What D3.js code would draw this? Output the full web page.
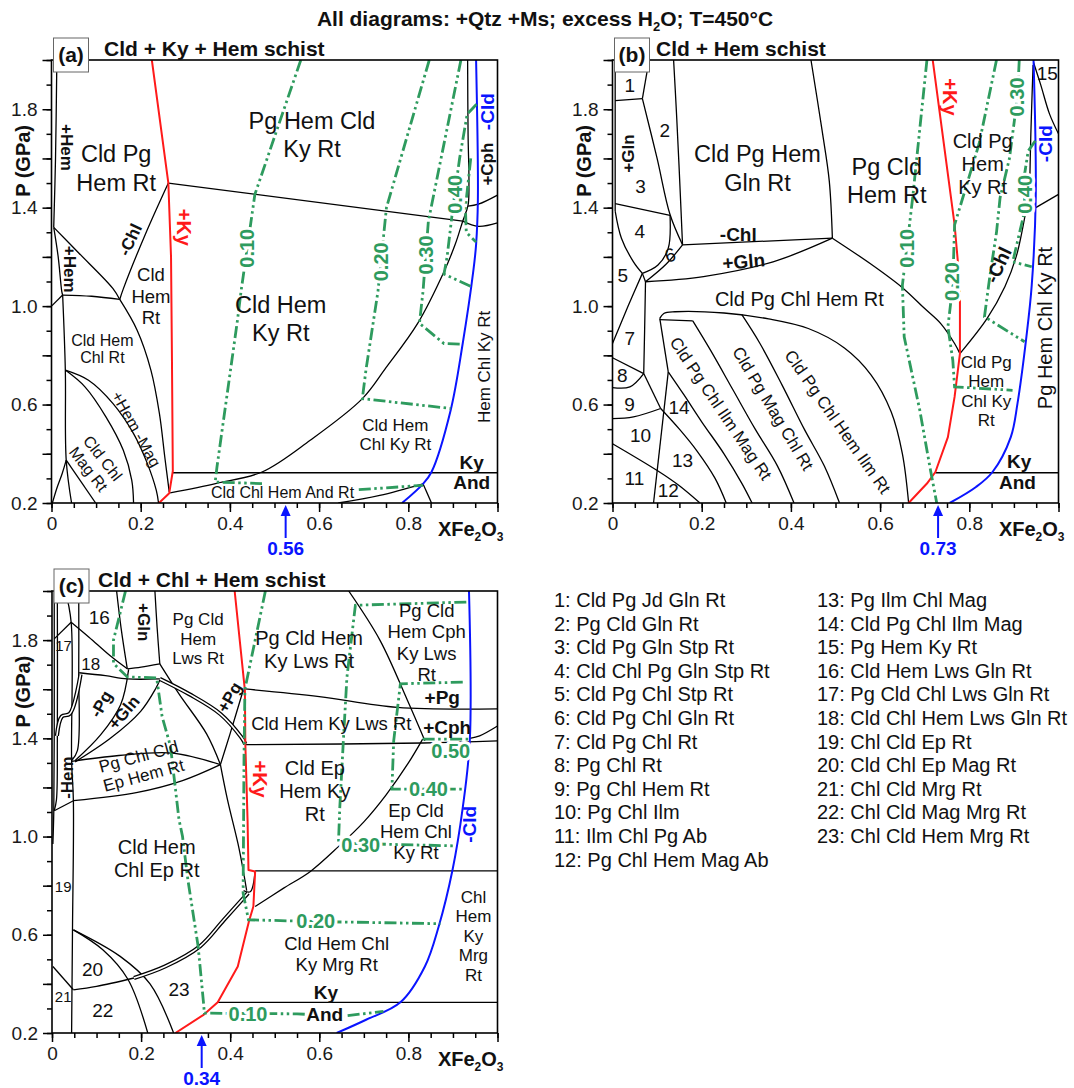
<!DOCTYPE html>
<html><head><meta charset="utf-8">
<script src="https://cdn.jsdelivr.net/npm/d3@7"></script>
<style>
body{margin:0;background:#fff;}
svg{display:block;font-family:"Liberation Sans",Arial,sans-serif;}
</style></head><body>
<svg id="chart" width="1074" height="1088"></svg>
<script>
// ---------------- DATA (x = XFe2O3, y = P in GPa) ----------------
const xMajorTicks = [0, 0.2, 0.4, 0.6, 0.8, 1.0];
const yLabelTicks = [0.2, 0.6, 1.0, 1.4, 1.8];

// Panel (a)
const aBlack = [
  [[0.012,2.0],[0.009,1.6],[0.005,1.32]],
  [[0.005,1.32],[0.015,1.2],[0.023,1.06],[0.025,1.045]],
  [[0.005,1.32],[0.06,1.218],[0.1375,1.072],[0.153,1.027]],
  [[0.262,1.50],[0.21,1.29],[0.161,1.07],[0.153,1.027]],
  [[0.262,1.50],[0.922,1.345]],
  [[0.922,1.345],[0.957,1.324],[1.0,1.338]],
  [[0.934,1.406],[0.957,1.414],[1.0,1.451]],
  [[0.933,2.0],[0.934,1.7],[0.936,1.5],[0.934,1.41],[0.922,1.345],[0.905,1.25],[0.88,1.14],[0.821,0.93],[0.75,0.75],[0.697,0.624],[0.58,0.455],[0.472,0.326],[0.37,0.28],[0.266,0.241]],
  [[0.272,0.323],[1.0,0.323]],
  [[0.833,0.278],[0.852,0.2]],
  [[0.643,0.2],[0.736,0.231],[0.833,0.278]],
  [[0,1.0],[0.025,1.045]],
  [[0.025,1.045],[0.09,1.04],[0.153,1.027]],
  [[0.025,1.045],[0.031,0.74],[0.033,0.374],[0.045,0.2]],
  [[0.002,0.2],[0.012,0.26],[0.024,0.32],[0.033,0.374]],
  [[0.033,0.374],[0.099,0.2]],
  [[0.153,1.027],[0.192,0.902],[0.223,0.739],[0.242,0.563],[0.254,0.387],[0.264,0.245]],
  [[0.031,0.74],[0.083,0.699],[0.138,0.604],[0.184,0.482],[0.215,0.36],[0.235,0.251],[0.24,0.2]],
  [[0.031,0.74],[0.075,0.672],[0.122,0.55],[0.161,0.414],[0.18,0.292],[0.184,0.2]]
];
const aDouble = [];
const aRed = [[0.225,2.0],[0.262,1.50],[0.268,1.2],[0.270,0.8],[0.272,0.33],[0.264,0.24],[0.241,0.2]];
const aBlue = [[0.952,2.0],[0.956,1.43],[0.952,1.25],[0.946,1.146],[0.922,0.848],[0.895,0.577],[0.852,0.326],[0.833,0.278],[0.786,0.2]];
const aGreen = [
  [[0.559,2.0],[0.456,1.454],[0.425,1.06],[0.417,0.943],[0.371,0.346],[0.367,0.285],[0.472,0.279]],
  [[0.689,0.254],[0.833,0.272]],
  [[0.847,2.0],[0.751,1.40],[0.732,1.06],[0.705,0.74],[0.697,0.624],[0.895,0.584]],
  [[0.918,2.0],[0.845,1.345],[0.833,1.06],[0.825,0.93],[0.88,0.848],[0.922,0.845]],
  [[0.953,1.82],[0.932,1.78],[0.915,1.6],[0.9,1.4],[0.887,1.2],[0.88,1.13],[0.94,1.08]],
  [[0.94,1.6],[0.928,1.4],[0.93,1.3],[0.952,1.26]]
];
const aLabels = [
  {t:"Cld Pg\nHem Rt", x:0.145, y:1.56, s:"big"},
  {t:"Pg Hem Cld\nKy Rt", x:0.584, y:1.696, s:"big"},
  {t:"Cld Hem\nKy Rt", x:0.514, y:0.95, s:"big"},
  {t:"Cld\nHem\nRt", x:0.223, y:1.04, s:"m18"},
  {t:"Cld Hem\nChl Rt", x:0.114, y:0.826, s:"sm"},
  {t:"+Hem -Mag", x:0.19, y:0.50, s:"sm", r:61},
  {t:"Cld Chl\nMag Rt", x:0.099, y:0.36, s:"sm", r:52},
  {t:"-Chl", x:0.176, y:1.27, s:"bold", r:-65},
  {t:"+Ky", x:0.297, y:1.32, s:"red", r:90},
  {t:"+Hem", x:0.035, y:1.645, s:"bold", r:90},
  {t:"+Hem", x:0.042, y:1.15, s:"bold", r:90},
  {t:"+Cph", x:0.977, y:1.577, s:"bold", r:-90},
  {t:"-Cld", x:0.977, y:1.79, s:"blue", r:-90},
  {t:"Hem Chl Ky Rt", x:0.969, y:0.753, s:"sm17", r:-90},
  {t:"Cld Hem\nChl Ky Rt", x:0.771, y:0.478, s:"sm17"},
  {t:"Ky", x:0.942, y:0.367, s:"boldL"},
  {t:"And", x:0.942, y:0.285, s:"boldL"},
  {t:"Cld Chl Hem And Rt", x:0.518, y:0.245, s:"sm"},
  {t:"0.10", x:0.439, y:1.235, s:"green", r:-90},
  {t:"0.20", x:0.739, y:1.18, s:"green", r:-90},
  {t:"0.30", x:0.84, y:1.208, s:"green", r:-90},
  {t:"0.40", x:0.904, y:1.454, s:"green", r:-90}
];
const aArrow = {x:0.525, label:"0.56"};

// Panel (b)
const bBlack = [
  [[0.006,2.0],[0.006,1.386]],
  [[0.006,1.835],[0.067,1.843]],
  [[0.067,1.843],[0.082,2.0]],
  [[0.067,1.843],[0.1,1.6],[0.129,1.372],[0.157,1.249]],
  [[0.137,2.0],[0.143,1.8],[0.149,1.577],[0.157,1.249]],
  [[0.006,1.416],[0.129,1.369]],
  [[0.006,1.386],[0.02,1.276],[0.047,1.18],[0.067,1.133]],
  [[0.129,1.369],[0.125,1.235],[0.102,1.167],[0.067,1.133]],
  [[0.157,1.249],[0.12,1.17],[0.074,1.099]],
  [[0.067,1.133],[0.074,1.099]],
  [[0.074,1.099],[0.204,1.12],[0.36,1.18],[0.493,1.276]],
  [[0.157,1.249],[0.493,1.276]],
  [[0.445,2.0],[0.47,1.713],[0.486,1.509],[0.493,1.276]],
  [[0.493,1.276],[0.58,1.17],[0.65,1.075],[0.7,0.99],[0.736,0.929],[0.767,0.848],[0.779,0.807]],
  [[0.779,0.807],[0.84,0.95],[0.88,1.08],[0.905,1.2],[0.92,1.32],[0.93,1.42]],
  [[0.944,1.99],[0.96,1.9],[0.98,1.78],[1.0,1.70]],
  [[0.943,1.98],[0.938,1.7],[0.935,1.45]],
  [[0.949,1.40],[1.0,1.454]],
  [[0.724,0.323],[1.0,0.323]],
  [[0.067,1.133],[0.035,1.0],[0,0.848]],
  [[0.074,1.099],[0.072,0.9],[0.07,0.726]],
  [[0,0.79],[0.07,0.726]],
  [[0,0.669],[0.039,0.672],[0.07,0.726]],
  [[0.07,0.726],[0.108,0.584]],
  [[0,0.543],[0.047,0.55],[0.108,0.584]],
  [[0.125,0.733],[0.092,0.2]],
  [[0.106,0.95],[0.125,0.733]],
  [[0.106,0.95],[0.115,0.97],[0.14,0.977],[0.25,0.972],[0.35,0.948],[0.439,0.909],[0.52,0.83],[0.58,0.72],[0.625,0.57],[0.65,0.4],[0.664,0.2]],
  [[0.106,0.945],[0.18,0.94]],
  [[0.125,0.733],[0.16,0.64],[0.2,0.53],[0.25,0.4],[0.29,0.28],[0.313,0.2]],
  [[0.108,0.584],[0.15,0.5],[0.19,0.41],[0.23,0.3],[0.255,0.2]],
  [[0.18,0.94],[0.22,0.82],[0.27,0.66],[0.32,0.5],[0.37,0.35],[0.407,0.2]],
  [[0.29,0.965],[0.33,0.85],[0.38,0.68],[0.43,0.5],[0.475,0.35],[0.509,0.2]],
  [[0,0.441],[0.102,0.33],[0.15,0.27],[0.196,0.2]]
];
const bDouble = [];
const bRed = [[0.718,2.0],[0.767,1.331],[0.779,1.085],[0.779,0.807],[0.767,0.631],[0.752,0.468],[0.724,0.326],[0.705,0.279],[0.664,0.2]];
const bBlue = [[0.944,2.0],[0.949,1.44],[0.94,1.085],[0.928,0.875],[0.908,0.604],[0.893,0.468],[0.852,0.326],[0.815,0.265],[0.756,0.2]];
const bGreen = [
  [[0.705,2.0],[0.673,1.44],[0.65,1.085],[0.654,0.875],[0.689,0.577],[0.713,0.333],[0.727,0.2]],
  [[0.861,2.0],[0.822,1.66],[0.767,1.33],[0.763,1.085],[0.752,0.916],[0.763,0.78],[0.767,0.672],[0.897,0.658]],
  [[0.912,2.0],[0.908,1.85],[0.89,1.6],[0.869,1.44],[0.861,1.30],[0.846,1.12],[0.834,0.957],[0.924,0.855]],
  [[0.948,1.672],[0.932,1.63],[0.924,1.536],[0.924,1.386],[0.9,1.2],[0.897,1.18],[0.94,1.16]]
];
const bLabels = [
  {t:"1", x:0.039, y:1.898, s:"num"},
  {t:"2", x:0.117, y:1.713, s:"num"},
  {t:"+Gln", x:0.034, y:1.62, s:"bold", r:-90},
  {t:"3", x:0.063, y:1.488, s:"num"},
  {t:"4", x:0.061, y:1.304, s:"num"},
  {t:"5", x:0.023, y:1.126, s:"num"},
  {t:"6", x:0.129, y:1.208, s:"num", r:-15},
  {t:"Cld Pg Hem\nGln Rt", x:0.325, y:1.56, s:"big"},
  {t:"Pg Cld\nHem Rt", x:0.615, y:1.508, s:"big"},
  {t:"-Chl", x:0.282, y:1.29, s:"boldL"},
  {t:"+Gln", x:0.294, y:1.181, s:"boldL", r:-5},
  {t:"+Ky", x:0.756, y:1.85, s:"red", r:90},
  {t:"Cld Pg\nHem\nKy Rt", x:0.83, y:1.577, s:"mid"},
  {t:"-Cld", x:0.971, y:1.66, s:"blue", r:-90},
  {t:"15", x:0.975, y:1.945, s:"num"},
  {t:"-Chl", x:0.865, y:1.167, s:"boldL", r:-65},
  {t:"Pg Hem Chl Ky Rt", x:0.97, y:0.911, s:"mid", r:-90},
  {t:"Cld Pg Chl Hem Rt", x:0.419, y:1.027, s:"mid"},
  {t:"Cld Pg\nHem\nChl Ky\nRt", x:0.838, y:0.655, s:"sm17"},
  {t:"7", x:0.039, y:0.868, s:"num"},
  {t:"8", x:0.022, y:0.719, s:"num"},
  {t:"9", x:0.038, y:0.601, s:"num"},
  {t:"10", x:0.063, y:0.475, s:"num"},
  {t:"11", x:0.049, y:0.299, s:"num"},
  {t:"12", x:0.125, y:0.251, s:"num"},
  {t:"13", x:0.157, y:0.373, s:"num"},
  {t:"14", x:0.149, y:0.59, s:"num"},
  {t:"Cld Pg Chl Ilm Mag Rt", x:0.243, y:0.584, s:"sm17", r:56},
  {t:"Cld Pg Mag Chl Rt", x:0.36, y:0.584, s:"sm17", r:59},
  {t:"Cld Pg Chl Hem Ilm Rt", x:0.505, y:0.53, s:"sm17", r:55},
  {t:"Ky", x:0.912, y:0.37, s:"boldL"},
  {t:"And", x:0.908, y:0.283, s:"boldL"},
  {t:"0.10", x:0.66, y:1.235, s:"green", r:-90},
  {t:"0.20", x:0.762, y:1.1, s:"green", r:-90},
  {t:"0.30", x:0.908, y:1.85, s:"green", r:-90},
  {t:"0.40", x:0.924, y:1.454, s:"green", r:-90}
];
const bArrow = {x:0.73, label:"0.73"};

// Panel (c)
const cBlack = [
  [[0.005,2.0],[0.005,1.4],[0.004,1.1],[0.002,0.97]],
  [[0.012,2.0],[0.012,1.4],[0.01,1.15],[0.005,1.105]],
  [[0.03,2.0],[0.043,1.873],[0.044,1.31],[0.048,1.146],[0.046,0.62],[0.044,0.2]],
  [[0.06,2.0],[0.06,1.67],[0.057,1.35],[0.044,1.309]],
  [[0.005,1.805],[0.043,1.873]],
  [[0.043,1.873],[0.083,1.812],[0.13,1.737],[0.169,1.683]],
  [[0.145,2.0],[0.155,1.85],[0.169,1.683]],
  [[0.231,2.0],[0.236,1.85],[0.242,1.703]],
  [[0.169,1.683],[0.2,1.69],[0.242,1.703]],
  [[0.061,1.667],[0.12,1.655],[0.169,1.642],[0.242,1.642]],
  [[0.242,1.703],[0.285,1.581],[0.347,1.418],[0.378,1.293]],
  [[0.378,1.293],[0.394,1.149],[0.42,0.95],[0.437,0.78]],
  [[0.378,1.293],[0.4,1.42],[0.429,1.595]],
  [[0.052,1.31],[0.109,1.414],[0.154,1.537],[0.172,1.681]],
  [[0.052,1.304],[0.131,1.4],[0.199,1.51],[0.232,1.6],[0.243,1.642]],
  [[0.044,1.306],[0.15,1.33],[0.27,1.34],[0.378,1.293]],
  [[0.048,1.146],[0.192,1.18],[0.293,1.228],[0.378,1.293]],
  [[0.005,1.105],[0.048,1.146]],
  [[0.184,0.424],[0.1,0.39],[0.048,0.376]],
  [[0.048,0.62],[0.114,0.539],[0.17,0.42],[0.215,0.2]],
  [[0.048,0.62],[0.153,0.512],[0.22,0.4],[0.273,0.2]],
  [[0.002,0.471],[0.048,0.376]],
  [[0.456,0.715],[0.52,0.79],[0.58,0.858],[0.643,0.959],[0.7,1.06],[0.75,1.17],[0.8,1.3],[0.832,1.397]],
  [[0.456,0.86],[1.0,0.86]],
  [[0.372,0.325],[1.0,0.325]],
  [[0.434,1.374],[0.832,1.381],[1.0,1.39]],
  [[0.938,1.40],[0.96,1.41],[1.0,1.45]],
  [[0.433,1.601],[0.6,1.57],[0.775,1.526],[1.0,1.52]],
  [[0.666,2.0],[0.736,1.8],[0.798,1.554],[0.837,1.39]],
  [[0.43,0.78],[0.445,0.775],[0.456,0.86]]
];
const cDouble = [
  [[0.242,1.642],[0.308,1.58],[0.378,1.499],[0.425,1.404],[0.434,1.377]],
  [[0.011,1.41],[0.022,1.489],[0.04,1.5],[0.064,1.66]],
  [[0.44,0.77],[0.386,0.661],[0.332,0.553],[0.254,0.471],[0.184,0.424]]
];
const cRed = [[0.41,2.0],[0.433,1.595],[0.434,1.377],[0.439,1.064],[0.441,0.864],[0.456,0.858],[0.452,0.715],[0.442,0.654],[0.417,0.471],[0.372,0.325],[0.341,0.275],[0.277,0.2]];
const cBlue = [[0.936,2.0],[0.938,1.397],[0.922,1.118],[0.899,0.864],[0.868,0.634],[0.837,0.471],[0.782,0.325],[0.705,0.254],[0.639,0.2]];
const cGreen = [
  [[0.165,2.0],[0.138,1.8],[0.138,1.705],[0.169,1.65],[0.235,1.646],[0.247,1.49],[0.266,1.367],[0.285,1.07],[0.293,1.0],[0.305,0.824],[0.328,0.553],[0.34,0.325],[0.342,0.281],[0.4,0.28],[0.55,0.278],[0.65,0.268],[0.744,0.288]],
  [[0.479,2.0],[0.456,1.8],[0.433,1.6],[0.431,1.32],[0.429,0.77],[0.441,0.661],[0.59,0.654],[0.872,0.645]],
  [[0.93,1.955],[0.681,1.942],[0.662,1.649],[0.654,1.39],[0.646,1.118],[0.643,0.973],[0.907,0.962]],
  [[0.922,1.629],[0.782,1.622],[0.767,1.39],[0.763,1.193],[0.92,1.193]],
  [[0.832,1.397],[0.938,1.397]]
];
const cLabels = [
  {t:"16", x:0.106, y:1.894, s:"num"},
  {t:"17", x:0.026, y:1.777, s:"xs"},
  {t:"18", x:0.087, y:1.703, s:"sm17"},
  {t:"+Gln", x:0.207, y:1.873, s:"bold", r:90},
  {t:"Pg Cld\nHem\nLws Rt", x:0.328, y:1.805, s:"sm17"},
  {t:"Pg Cld Hem\nKy Lws Rt", x:0.577, y:1.761, s:"mid"},
  {t:"Pg Cld\nHem Cph\nKy Lws\nRt", x:0.841, y:1.79, s:"m18"},
  {t:"+Pg", x:0.876, y:1.567, s:"boldL"},
  {t:"+Cph", x:0.887, y:1.445, s:"boldL"},
  {t:"Cld Hem Ky Lws Rt", x:0.627, y:1.459, s:"m18"},
  {t:"+Pg", x:0.398, y:1.567, s:"bold", r:-60},
  {t:"-Pg", x:0.11, y:1.54, s:"bold", r:-60},
  {t:"+Gln", x:0.161, y:1.506, s:"bold", r:-50},
  {t:"Pg Chl Cld\nEp Hem Rt", x:0.2, y:1.288, s:"sm17", r:-15},
  {t:"-Hem", x:0.033, y:1.24, s:"bold", r:-90},
  {t:"+Ky", x:0.468, y:1.234, s:"red", r:90},
  {t:"Cld Ep\nHem Ky\nRt", x:0.59, y:1.184, s:"mid"},
  {t:"Ep Cld\nHem Chl\nKy Rt", x:0.817, y:1.02, s:"m18"},
  {t:"-Cld", x:0.937, y:1.05, s:"blue", r:-90},
  {t:"Cld Hem\nChl Ep Rt", x:0.235, y:0.911, s:"mid"},
  {t:"19", x:0.025, y:0.794, s:"xs"},
  {t:"20", x:0.091, y:0.458, s:"num"},
  {t:"21", x:0.025, y:0.349, s:"xs"},
  {t:"22", x:0.114, y:0.292, s:"num"},
  {t:"23", x:0.285, y:0.376, s:"num"},
  {t:"Ky", x:0.615, y:0.367, s:"boldL"},
  {t:"And", x:0.612, y:0.276, s:"boldLh"},
  {t:"Cld Hem Chl\nKy Mrg Rt", x:0.639, y:0.522, s:"m18"},
  {t:"Chl\nHem\nKy\nMrg\nRt", x:0.946, y:0.596, s:"sm17"},
  {t:"0.10", x:0.44, y:0.277, s:"green"},
  {t:"0.20", x:0.592, y:0.655, s:"green"},
  {t:"0.30", x:0.693, y:0.966, s:"green"},
  {t:"0.40", x:0.845, y:1.193, s:"green"},
  {t:"0.50", x:0.895, y:1.35, s:"green"}
];
const cArrow = {x:0.336, label:"0.34"};

const legendLeft = ["1: Cld Pg Jd Gln Rt","2: Pg Cld Gln Rt","3: Cld Pg Gln Stp Rt","4: Cld Chl Pg Gln Stp Rt","5: Cld Pg Chl Stp Rt","6: Cld Pg Chl Gln Rt","7: Cld Pg Chl Rt","8: Pg Chl Rt","9: Pg Chl Hem Rt","10: Pg Chl Ilm","11: Ilm Chl Pg Ab","12: Pg Chl Hem Mag Ab"];
const legendRight = ["13: Pg Ilm Chl Mag","14: Cld Pg Chl Ilm Mag","15: Pg Hem Ky Rt","16: Cld Hem Lws Gln Rt","17: Pg Cld Chl Lws Gln Rt","18: Cld Chl Hem Lws Gln Rt","19: Chl Cld Ep Rt","20: Cld Chl Ep Mag Rt","21: Chl Cld Mrg Rt","22: Chl Cld Mag Mrg Rt","23: Chl Cld Hem Mrg Rt"];

// ---------------- STYLE / LAYOUT ----------------
const GREEN = "#2e9b5e", RED = "#ff1a1a", BLUE = "#0a14ff", INK = "#111";
const STYLES = {
  big:{size:23.5, lh:1.2}, mid:{size:20, lh:1.15}, m18:{size:18.5, lh:1.15},
  sm17:{size:17, lh:1.15}, sm:{size:16, lh:1.12}, num:{size:19}, xs:{size:15},
  bold:{size:17, w:"bold"}, boldL:{size:19, w:"bold"}, boldLh:{size:19, w:"bold", halo:true},
  red:{size:20, w:"bold", c:RED}, blue:{size:19, w:"bold", c:BLUE},
  green:{size:20, w:"bold", c:GREEN, halo:true}
};
const PANELS = [
  {id:"a", left:51.5, right:497.5, top:60, bottom:503, tag:"(a)", title:"Cld + Ky + Hem schist", titleX:104,
   black:aBlack, dbl:aDouble, red:aRed, blue:aBlue, green:aGreen, labels:aLabels, arrow:aArrow},
  {id:"b", left:612.5, right:1058.5, top:60, bottom:503, tag:"(b)", title:"Cld + Hem schist", titleX:656,
   black:bBlack, dbl:bDouble, red:bRed, blue:bBlue, green:bGreen, labels:bLabels, arrow:bArrow},
  {id:"c", left:52, right:497.5, top:591, bottom:1033, tag:"(c)", title:"Cld + Chl + Hem schist", titleX:98,
   black:cBlack, dbl:cDouble, red:cRed, blue:cBlue, green:cGreen, labels:cLabels, arrow:cArrow}
];

const svg = d3.select("#chart");
const defs = svg.append("defs");

function addLabel(g, sx, sy, lab) {
  const st = STYLES[lab.s];
  const lines = lab.t.split("\n");
  const lh = st.size * (st.lh || 1.15);
  const t = g.append("text")
    .attr("transform", `translate(${sx(lab.x)},${sy(lab.y)}) rotate(${lab.r || 0})`)
    .attr("text-anchor", "middle")
    .attr("font-size", st.size)
    .attr("font-weight", st.w || "normal")
    .attr("fill", st.c || INK);
  if (st.halo) t.attr("stroke", "#fff").attr("stroke-width", 6).attr("paint-order", "stroke").attr("stroke-linejoin", "round");
  lines.forEach((ln, i) => {
    t.append("tspan").attr("x", 0)
      .attr("y", (i - (lines.length - 1) / 2) * lh + st.size * 0.35)
      .text(ln);
  });
}

function drawPanel(p) {
  const sx = d3.scaleLinear().domain([0, 1]).range([p.left, p.right]);
  const sy = d3.scaleLinear().domain([0.2, 2.0]).range([p.bottom, p.top]);
  const g = svg.append("g");
  defs.append("clipPath").attr("id", "clip" + p.id).append("rect")
    .attr("x", p.left).attr("y", p.top).attr("width", p.right - p.left).attr("height", p.bottom - p.top);
  const plot = g.append("g").attr("clip-path", `url(#clip${p.id})`);
  const smooth = d3.line().x(d => sx(d[0])).y(d => sy(d[1])).curve(d3.curveCatmullRom.alpha(0.5));
  const straight = d3.line().x(d => sx(d[0])).y(d => sy(d[1]));

  p.black.forEach(l => plot.append("path").attr("d", smooth(l)).attr("fill", "none")
    .attr("stroke", "#000").attr("stroke-width", 1.3).attr("stroke-linejoin", "round"));
  p.dbl.forEach(l => {
    plot.append("path").attr("d", smooth(l)).attr("fill", "none").attr("stroke", "#000").attr("stroke-width", 4.2);
    plot.append("path").attr("d", smooth(l)).attr("fill", "none").attr("stroke", "#fff").attr("stroke-width", 1.6);
  });
  plot.append("path").attr("d", smooth(p.blue)).attr("fill", "none").attr("stroke", BLUE).attr("stroke-width", 2);
  plot.append("path").attr("d", straight(p.red)).attr("fill", "none").attr("stroke", RED).attr("stroke-width", 2).attr("stroke-linejoin", "round");
  p.green.forEach(l => plot.append("path").attr("d", straight(l)).attr("fill", "none")
    .attr("stroke", GREEN).attr("stroke-width", 2.8).attr("stroke-dasharray", "12,3.5,2.5,3.5,2.5,3.5"));

  // frame
  g.append("rect").attr("x", p.left).attr("y", p.top).attr("width", p.right - p.left).attr("height", p.bottom - p.top)
    .attr("fill", "none").attr("stroke", "#000").attr("stroke-width", 1.6);

  // axes
  const xMinor = d3.axisBottom(sx).tickValues(d3.range(0, 1.0001, 0.05)).tickSize(5).tickFormat("");
  const xMajor = d3.axisBottom(sx).tickValues(xMajorTicks).tickSize(9).tickPadding(5)
    .tickFormat(d => d === 0 ? "0" : (d >= 0.999 ? "" : d.toFixed(1)));
  const yMinor = d3.axisLeft(sy).tickValues(d3.range(0.2, 2.0001, 0.1)).tickSize(5).tickFormat("");
  const yMajor = d3.axisLeft(sy).tickValues(d3.range(0.2, 2.0001, 0.2)).tickSize(9).tickPadding(5)
    .tickFormat(d => yLabelTicks.some(v => Math.abs(v - d) < 1e-6) ? d.toFixed(1) : "");
  [xMinor, xMajor].forEach(ax => g.append("g").attr("transform", `translate(0,${p.bottom})`).call(ax));
  [yMinor, yMajor].forEach(ax => g.append("g").attr("transform", `translate(${p.left},0)`).call(ax));
  g.selectAll(".domain").remove();
  g.selectAll(".tick line").attr("stroke", "#000").attr("stroke-width", 1.5);
  g.selectAll(".tick text").attr("font-size", 19).attr("fill", "#1a1a1a").attr("font-family", '"Liberation Sans",Arial,sans-serif');

  // axis titles
  g.append("text").attr("transform", `translate(${p.left - 22},${sy(1.59)}) rotate(-90)`)
    .attr("text-anchor", "middle").attr("font-size", 20).attr("font-weight", "bold").attr("fill", INK).text("P (GPa)");
  const xt = g.append("text").attr("x", p.right + 6).attr("y", p.bottom + 33).attr("text-anchor", "end")
    .attr("font-size", 20).attr("font-weight", "bold").attr("fill", INK);
  xt.append("tspan").text("XFe");
  xt.append("tspan").attr("font-size", 12).attr("dy", 5).text("2");
  xt.append("tspan").attr("dy", -5).text("O");
  xt.append("tspan").attr("font-size", 12).attr("dy", 5).text("3");

  // panel tag + title
  g.append("rect").attr("x", p.left + 2).attr("y", p.top - 22).attr("width", 35).attr("height", 34)
    .attr("fill", "#fff").attr("stroke", "#666").attr("stroke-width", 1);
  g.append("text").attr("x", p.left + 19.5).attr("y", p.top + 2).attr("text-anchor", "middle")
    .attr("font-size", 21).attr("font-weight", "bold").attr("fill", INK).text(p.tag);
  g.append("text").attr("x", p.titleX).attr("y", p.top - 4).attr("font-size", 21).attr("font-weight", "bold")
    .attr("fill", INK).text(p.title);

  // labels
  const lg = g.append("g");
  p.labels.forEach(l => addLabel(lg, sx, sy, l));

  // arrow
  const ax = sx(p.arrow.x);
  g.append("line").attr("x1", ax).attr("x2", ax).attr("y1", p.bottom + 35).attr("y2", p.bottom + 10)
    .attr("stroke", BLUE).attr("stroke-width", 2);
  g.append("path").attr("d", `M${ax},${p.bottom + 2} L${ax - 5},${p.bottom + 13} L${ax + 5},${p.bottom + 13} Z`).attr("fill", BLUE);
  g.append("text").attr("x", ax).attr("y", p.bottom + 52).attr("text-anchor", "middle")
    .attr("font-size", 19).attr("font-weight", "bold").attr("fill", BLUE).text(p.arrow.label);
}

PANELS.forEach(drawPanel);

// main title
const mt = svg.append("text").attr("x", 545).attr("y", 26).attr("text-anchor", "middle")
  .attr("font-size", 21).attr("font-weight", "bold").attr("fill", INK);
mt.append("tspan").text("All diagrams: +Qtz +Ms; excess H");
mt.append("tspan").attr("font-size", 13).attr("dy", 5).text("2");
mt.append("tspan").attr("dy", -5).text("O; T=450°C");

// legend
const leg = svg.append("g").attr("font-size", 20).attr("fill", INK);
legendLeft.forEach((s, i) => leg.append("text").attr("x", 554).attr("y", 607 + i * 23.6).text(s));
legendRight.forEach((s, i) => leg.append("text").attr("x", 817).attr("y", 607 + i * 23.6).text(s));
</script></body></html>
